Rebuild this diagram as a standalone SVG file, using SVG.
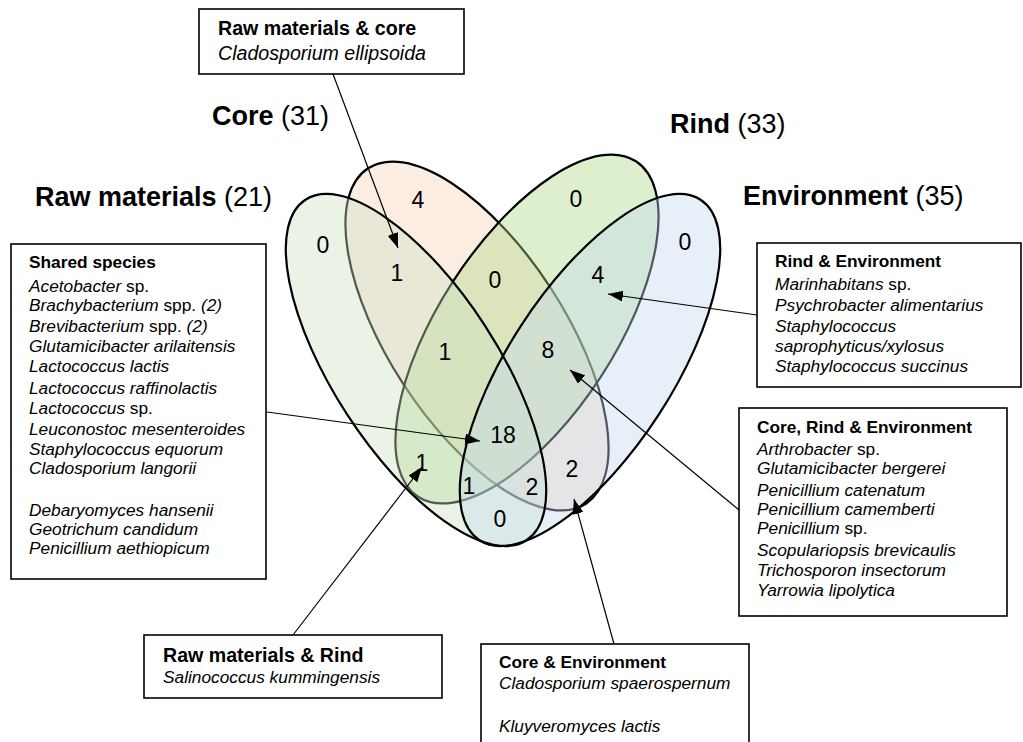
<svg xmlns="http://www.w3.org/2000/svg" width="1023" height="742" viewBox="0 0 1023 742">
<defs>
<style>
.lbl{font-family:"Liberation Sans",Arial,sans-serif;font-size:27px;fill:#000}
.num{font-family:"Liberation Sans",Arial,sans-serif;font-size:23px;fill:#000;text-anchor:middle}
.t{font-family:"Liberation Sans",Arial,sans-serif;font-size:17.3px;fill:#000}
.big{font-size:19.6px}
.b{font-weight:bold}
.i{font-style:italic}
.box{fill:#fff;stroke:#000;stroke-width:1.6}
.conn{stroke:#000;stroke-width:1.2;fill:none}
.fill{fill-opacity:0.4;stroke:none}
.edge{fill:none;stroke:#000;stroke-width:2.2}
</style>
<marker id="arr" markerUnits="userSpaceOnUse" markerWidth="16" markerHeight="12" refX="15" refY="5.5" orient="auto">
<path d="M0,0 L15,5.5 L0,11 z" fill="#000"/>
</marker>
</defs>
<rect width="1023" height="742" fill="#fff"/>

<g id="venn">
<g id="set-core">
<ellipse cx="477" cy="336" rx="88" ry="200" transform="rotate(-33 477 336)" class="fill" fill="#f7d2b9"/>
<ellipse cx="477" cy="336" rx="88" ry="200" transform="rotate(-33 477 336)" class="edge"/>
</g>
<g id="set-rind">
<ellipse cx="527" cy="329" rx="88" ry="200" transform="rotate(33 527 329)" class="fill" fill="#aad780"/>
<ellipse cx="527" cy="329" rx="88" ry="200" transform="rotate(33 527 329)" class="edge"/>
</g>
<g id="set-raw">
<ellipse cx="416" cy="370" rx="82" ry="203" transform="rotate(-33 416 370)" class="fill" fill="#cde1c3"/>
</g>
<g id="set-env">
<ellipse cx="590" cy="370" rx="82" ry="203" transform="rotate(33 590 370)" class="fill" fill="#c3daf0"/>
</g>
<g id="outer-outlines">
<ellipse cx="416" cy="370" rx="82" ry="203" transform="rotate(-33 416 370)" class="edge"/>
<ellipse cx="590" cy="370" rx="82" ry="203" transform="rotate(33 590 370)" class="edge"/>
</g>
<g id="counts">
<text class="num" x="323" y="253">0</text>
<text class="num" x="418" y="208">4</text>
<text class="num" x="576" y="207">0</text>
<text class="num" x="685" y="250">0</text>
<text class="num" x="397" y="281">1</text>
<text class="num" x="495" y="288">0</text>
<text class="num" x="598" y="283">4</text>
<text class="num" x="445" y="360">1</text>
<text class="num" x="548" y="358">8</text>
<text class="num" x="503" y="443">18</text>
<text class="num" x="422" y="471">1</text>
<text class="num" x="469" y="494">1</text>
<text class="num" x="532" y="495">2</text>
<text class="num" x="572" y="477">2</text>
<text class="num" x="500" y="527">0</text>
</g>
</g>

<g id="set-labels">
<text class="lbl" x="35" y="206"><tspan class="b">Raw materials</tspan> (21)</text>
<text class="lbl" x="212" y="125"><tspan class="b">Core</tspan> (31)</text>
<text class="lbl" x="670" y="133"><tspan class="b">Rind</tspan> (33)</text>
<text class="lbl" x="743" y="205"><tspan class="b">Environment</tspan> (35)</text>
</g>

<g id="connectors">
<line class="conn" x1="333" y1="74" x2="398" y2="248" marker-end="url(#arr)"/>
<line class="conn" x1="267" y1="412" x2="480" y2="441" marker-end="url(#arr)"/>
<line class="conn" x1="293" y1="635" x2="422" y2="467" marker-end="url(#arr)"/>
<line class="conn" x1="614" y1="644" x2="574" y2="499" marker-end="url(#arr)"/>
<line class="conn" x1="757" y1="315" x2="608" y2="294" marker-end="url(#arr)"/>
<line class="conn" x1="739" y1="510" x2="570" y2="370" marker-end="url(#arr)"/>
</g>

<g id="box-raw-core">
<rect class="box" x="199" y="9" width="265" height="65"/>
<text class="t big b" x="218" y="35">Raw materials &amp; core</text>
<text class="t big i" x="218" y="60">Cladosporium ellipsoida</text>
</g>

<g id="box-shared">
<rect class="box" x="11" y="244" width="255" height="335"/>
<text class="t b" x="29" y="268">Shared species</text>
<text class="t" x="29" y="292"><tspan class="i">Acetobacter</tspan> sp.</text>
<text class="t" x="29" y="311"><tspan class="i">Brachybacterium</tspan> spp. <tspan class="i">(2)</tspan></text>
<text class="t" x="29" y="332"><tspan class="i">Brevibacterium</tspan> spp. <tspan class="i">(2)</tspan></text>
<text class="t i" x="29" y="352">Glutamicibacter arilaitensis</text>
<text class="t i" x="29" y="372">Lactococcus lactis</text>
<text class="t i" x="29" y="394">Lactococcus raffinolactis</text>
<text class="t" x="29" y="414"><tspan class="i">Lactococcus</tspan> sp.</text>
<text class="t i" x="29" y="435">Leuconostoc mesenteroides</text>
<text class="t i" x="29" y="455">Staphylococcus equorum</text>
<text class="t i" x="29" y="474">Cladosporium langorii</text>
<text class="t i" x="29" y="516">Debaryomyces hansenii</text>
<text class="t i" x="29" y="535">Geotrichum candidum</text>
<text class="t i" x="29" y="554">Penicillium aethiopicum</text>
</g>

<g id="box-rind-env">
<rect class="box" x="757" y="243" width="264" height="144"/>
<text class="t b" x="775" y="267">Rind &amp; Environment</text>
<text class="t" x="775" y="290"><tspan class="i">Marinhabitans</tspan> sp.</text>
<text class="t i" x="775" y="311">Psychrobacter alimentarius</text>
<text class="t i" x="775" y="332">Staphylococcus</text>
<text class="t i" x="775" y="352">saprophyticus/xylosus</text>
<text class="t i" x="775" y="372">Staphylococcus succinus</text>
</g>

<g id="box-core-rind-env">
<rect class="box" x="739" y="408" width="268" height="208"/>
<text class="t b" x="757" y="433">Core, Rind &amp; Environment</text>
<text class="t" x="757" y="455"><tspan class="i">Arthrobacter</tspan> sp.</text>
<text class="t i" x="757" y="474">Glutamicibacter bergerei</text>
<text class="t i" x="757" y="496">Penicillium catenatum</text>
<text class="t i" x="757" y="515">Penicillium camemberti</text>
<text class="t" x="757" y="534"><tspan class="i">Penicillium</tspan> sp.</text>
<text class="t i" x="757" y="556">Scopulariopsis brevicaulis</text>
<text class="t i" x="757" y="576">Trichosporon insectorum</text>
<text class="t i" x="757" y="596">Yarrowia lipolytica</text>
</g>

<g id="box-raw-rind">
<rect class="box" x="144" y="635" width="298" height="63"/>
<text class="t big b" x="163" y="662">Raw materials &amp; Rind</text>
<text class="t i" x="163" y="683">Salinococcus kummingensis</text>
</g>

<g id="box-core-env">
<rect class="box" x="481" y="644" width="268" height="110"/>
<text class="t b" x="499" y="668">Core &amp; Environment</text>
<text class="t i" x="499" y="689">Cladosporium spaerospernum</text>
<text class="t i" x="499" y="732">Kluyveromyces lactis</text>
</g>
</svg>
